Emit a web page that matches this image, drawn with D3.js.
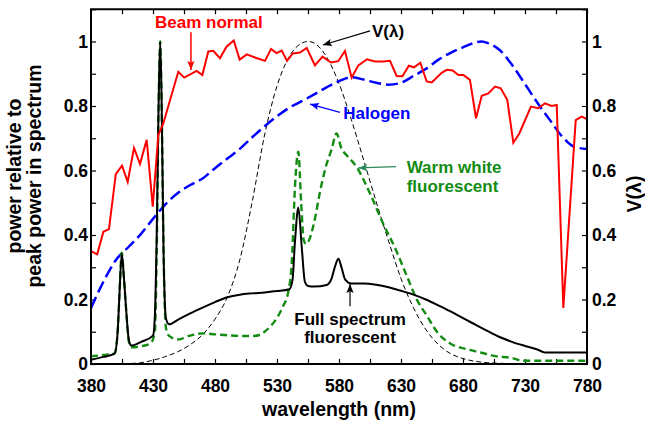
<!DOCTYPE html>
<html>
<head>
<meta charset="utf-8">
<script src="https://cdn.jsdelivr.net/npm/d3@7"></script>
<style>
body { margin: 0; background: #fff; }
text { font-family: "Liberation Sans", Arial, sans-serif; font-weight: bold; }
</style>
</head>
<body>
<svg id="chart" width="645" height="423"></svg>
<script>
// tick labels
var xTickLabels = [380, 430, 480, 530, 580, 630, 680, 730, 780];
var yTickValues = [0, 0.2, 0.4, 0.6, 0.8, 1];
var yTickLabels = ["0", "0.2", "0.4", "0.6", "0.8", "1"];

// Beam normal (red)
var beamWl = [380,385,390,394.5,400,405,409.6,414.7,419.5,424.9,429.8,434.3,438.3,450.4,455.2,465.2,469.8,474.6,478.6,484,489.3,495.1,499.9,505.6,513.9,520.3,525.2,529.6,533.8,538.1,542.7,548.5,554,560.6,566.7,573.5,579.4,584.8,590.2,595.6,602.6,609,615.7,621.1,626.5,631.2,636.3,640.5,645.6,650.7,654.8,662.8,666.9,671.7,676.2,680.3,685.6,690.5,695.1,700.4,705.8,710.4,715.7,720.6,725.4,734.8,740.7,746.1,751.5,755.6,760.9,770.9,775.7,780];
var beamVal = [0.35,0.34,0.41,0.418,0.589,0.615,0.565,0.67,0.62,0.695,0.488,0.71,0.746,0.906,0.888,0.909,0.896,0.969,0.971,0.948,0.984,1.003,0.944,0.96,0.948,0.94,0.977,0.964,0.972,0.94,0.963,0.966,0.98,0.926,0.953,0.935,0.939,0.971,0.888,0.926,0.945,0.938,0.938,0.94,0.893,0.892,0.925,0.92,0.934,0.876,0.873,0.903,0.912,0.91,0.896,0.896,0.881,0.762,0.832,0.839,0.86,0.855,0.819,0.686,0.715,0.798,0.793,0.808,0.8,0.803,0.174,0.756,0.767,0.759];

// Halogen (blue dashed)
var haloWl = [380,390,400,410,420,430,440,450,460,470,480,490,500,510,520,530,540,550,560,570,580,590,600,610,620,630,640,650,660,670,680,690,695,700,710,720,730,740,750,760,770,780];
var haloVal = [0.174,0.255,0.322,0.362,0.402,0.45,0.495,0.53,0.555,0.575,0.607,0.637,0.667,0.703,0.737,0.768,0.795,0.815,0.836,0.858,0.877,0.889,0.882,0.872,0.866,0.872,0.893,0.915,0.943,0.965,0.982,0.997,1.0,0.995,0.972,0.925,0.868,0.81,0.757,0.705,0.673,0.667];

// V(lambda) (thin black dashed, right axis)
var vWl = [380,390,400,410,420,430,440,450,460,470,480,490,500,510,520,530,540,550,555,560,570,580,590,600,610,620,630,640,650,660,670,680,690,700,710,720,730,740,750,760,770,780];
var vVal = [0.00004,0.00012,0.0004,0.0012,0.004,0.0116,0.023,0.038,0.06,0.091,0.139,0.208,0.323,0.503,0.71,0.862,0.954,0.995,1.0,0.995,0.952,0.87,0.757,0.631,0.503,0.381,0.265,0.175,0.107,0.061,0.032,0.017,0.0082,0.0041,0.0021,0.001,0.0005,0.00025,0.00012,0.00006,0.00003,0.000015];

// Warm white fluorescent (green dashed)
var warmWl = [380,390,399,401.5,403,404.8,406.5,408.5,410.5,412.5,420,428,431.5,433,434.5,435.8,437,438.5,440.5,443,450,460,470,480,490,500,510,516,520,525,530,535,539,542,544.5,547.2,549.5,551.5,553.5,556,560,565,570,574,578,582,586,594,605,615,626,635,643,650,660,670,683,695,705,720,728,740,780];
var warmVal = [0.024,0.028,0.033,0.1,0.22,0.345,0.27,0.16,0.07,0.052,0.055,0.064,0.1,0.35,0.8,1.0,0.8,0.35,0.11,0.087,0.076,0.088,0.095,0.092,0.089,0.087,0.087,0.09,0.1,0.118,0.143,0.18,0.222,0.32,0.55,0.658,0.5,0.385,0.372,0.385,0.44,0.54,0.62,0.665,0.715,0.668,0.648,0.612,0.529,0.44,0.353,0.27,0.198,0.155,0.095,0.063,0.046,0.035,0.025,0.018,0.01,0.01,0.01];

// Full spectrum fluorescent (black solid)
var fullWl = [380,390,399,401.5,403,404.8,406.5,408.5,410.5,412.5,420,430,431.5,433,434.5,435.8,437,438.5,440.5,443,450,460,470,480,490,500,510,520,530,540,542.5,544.5,547.2,550,552.5,555,560,570,574,577,579.5,582,585,590,600,610,620,630,640,650,660,670,680,690,700,710,720,730,740,746,760,780];
var fullVal = [0.013,0.022,0.032,0.1,0.22,0.343,0.27,0.16,0.075,0.057,0.068,0.088,0.15,0.4,0.8,1.0,0.8,0.35,0.14,0.123,0.137,0.157,0.175,0.192,0.207,0.215,0.219,0.222,0.226,0.232,0.26,0.38,0.485,0.36,0.255,0.242,0.24,0.245,0.265,0.305,0.326,0.3,0.262,0.25,0.25,0.246,0.238,0.227,0.215,0.2,0.182,0.163,0.142,0.122,0.102,0.083,0.068,0.056,0.045,0.036,0.036,0.036];

var green = "#138c13";

var svg = d3.select("#chart");
var x = d3.scaleLinear().domain([380, 780]).range([91, 587]);
var y = d3.scaleLinear().domain([0, 1.1]).range([364, 9.25]);
var yR = d3.scaleLinear().domain([0, 1.1]).range([364, 9.25]);

function zip(a, b) { return a.map(function(d, i) { return [d, b[i]]; }); }

var defs = svg.append("defs");
defs.append("clipPath").attr("id", "plot")
  .append("rect").attr("x", 91).attr("y", 9.25).attr("width", 496).attr("height", 354.75);

function marker(id, color) {
  defs.append("marker").attr("id", id)
    .attr("viewBox", "0 -5 10 10").attr("refX", 10).attr("refY", 0)
    .attr("markerUnits", "userSpaceOnUse")
    .attr("markerWidth", 10).attr("markerHeight", 9)
    .attr("orient", "auto")
    .append("path").attr("d", "M0,-4L10,0L0,4L2,0Z").attr("fill", color);
}
marker("ar-red", "red");
marker("ar-black", "black");
marker("ar-blue", "blue");
marker("ar-green", "#2a8a5a");

// axes
var minorX = d3.range(380, 781, 25);
var minorY = d3.range(0, 12).map(function(i) { return i / 10; });

function styleAxis(g) {
  g.select(".domain").remove();
  g.selectAll(".tick line").attr("stroke", "black").attr("stroke-width", 1.2);
  g.selectAll("text").style("font-size", "17.5px").attr("fill", "black");
}

svg.append("g").attr("transform", "translate(0,364)")
  .call(d3.axisBottom(x).tickValues(minorX).tickSize(-5).tickPadding(16)
    .tickFormat(function(d) { return xTickLabels.indexOf(d) >= 0 ? d : ""; }))
  .call(styleAxis);

svg.append("g").attr("transform", "translate(0,9.25)")
  .call(d3.axisTop(x).tickValues(minorX).tickSize(-5).tickFormat(""))
  .call(styleAxis);

function yFmt(d) {
  var i = yTickValues.findIndex(function(v) { return Math.abs(v - d) < 1e-6; });
  return i >= 0 ? yTickLabels[i] : "";
}

svg.append("g").attr("transform", "translate(91,0)")
  .call(d3.axisLeft(y).tickValues(minorY).tickSize(-5).tickPadding(3).tickFormat(yFmt))
  .call(styleAxis);

svg.append("g").attr("transform", "translate(587,0)")
  .call(d3.axisRight(yR).tickValues(minorY).tickSize(-5).tickPadding(5).tickFormat(yFmt))
  .call(styleAxis);

// series
var plot = svg.append("g").attr("clip-path", "url(#plot)");
var mono = d3.line().x(function(d) { return x(d[0]); }).y(function(d) { return y(d[1]); }).curve(d3.curveMonotoneX);
var lin = d3.line().x(function(d) { return x(d[0]); }).y(function(d) { return y(d[1]); });
var monoR = d3.line().x(function(d) { return x(d[0]); }).y(function(d) { return yR(d[1]); }).curve(d3.curveMonotoneX);

plot.append("path").datum(zip(vWl, vVal)).attr("d", monoR)
  .attr("fill", "none").attr("stroke", "black").attr("stroke-width", 1).attr("stroke-dasharray", "5,3");
plot.append("path").datum(zip(haloWl, haloVal)).attr("d", mono)
  .attr("fill", "none").attr("stroke", "blue").attr("stroke-width", 2.5).attr("stroke-dasharray", "12,5");
plot.append("path").datum(zip(warmWl, warmVal)).attr("d", mono)
  .attr("fill", "none").attr("stroke", green).attr("stroke-width", 2.4).attr("stroke-dasharray", "7,4");
plot.append("path").datum(zip(fullWl, fullVal)).attr("d", mono)
  .attr("fill", "none").attr("stroke", "black").attr("stroke-width", 2);
plot.append("path").datum(zip(beamWl, beamVal)).attr("d", lin)
  .attr("fill", "none").attr("stroke", "red").attr("stroke-width", 2);

// frame
svg.append("rect").attr("x", 91).attr("y", 9.25).attr("width", 496).attr("height", 354.75)
  .attr("fill", "none").attr("stroke", "black").attr("stroke-width", 2);

// axis titles
svg.append("text").attr("x", x(580)).attr("y", 416).attr("text-anchor", "middle")
  .style("font-size", "19.5px").text("wavelength (nm)");
svg.append("text").attr("transform", "translate(21,176) rotate(-90)").attr("text-anchor", "middle")
  .style("font-size", "19.5px").text("power relative to");
svg.append("text").attr("transform", "translate(41,176) rotate(-90)").attr("text-anchor", "middle")
  .style("font-size", "19.5px").text("peak power in spectrum");
svg.append("text").attr("transform", "translate(641,194) rotate(-90)").attr("text-anchor", "middle")
  .style("font-size", "19.5px").text("V(\u03bb)");

// annotations
function note(lines, wl, v, color, anchor) {
  var t = svg.append("text").attr("x", x(wl)).attr("y", y(v)).attr("fill", color)
    .attr("text-anchor", anchor || "start").style("font-size", "17px");
  lines.forEach(function(s, i) {
    t.append("tspan").attr("x", x(wl)).attr("dy", i ? "1.1em" : 0).text(s);
  });
}
function arrow(w1, v1, w2, v2, color, id, wd) {
  svg.append("line").attr("x1", x(w1)).attr("y1", y(v1)).attr("x2", x(w2)).attr("y2", y(v2))
    .attr("stroke", color).attr("stroke-width", wd || 1.2).attr("marker-end", "url(#" + id + ")");
}

note(["Beam normal"], 431.6, 1.042, "red");
arrow(460.6, 1.029, 460.6, 0.912, "red", "ar-red", 1.5);
note(["V(\u03bb)"], 606.6, 1.014, "black");
arrow(605, 1.033, 567, 0.989, "black", "ar-black");
note(["Halogen"], 583.5, 0.76, "blue");
arrow(580.8, 0.78, 556.6, 0.806, "blue", "ar-blue");
note(["Warm white", "fluorescent"], 634.6, 0.591, green);
arrow(626, 0.612, 595.6, 0.608, "#2a8a5a", "ar-green");
note(["Full spectrum", "fluorescent"], 588.9, 0.122, "black", "middle");
arrow(588.9, 0.179, 588.9, 0.248, "black", "ar-black");
</script>
</body>
</html>
